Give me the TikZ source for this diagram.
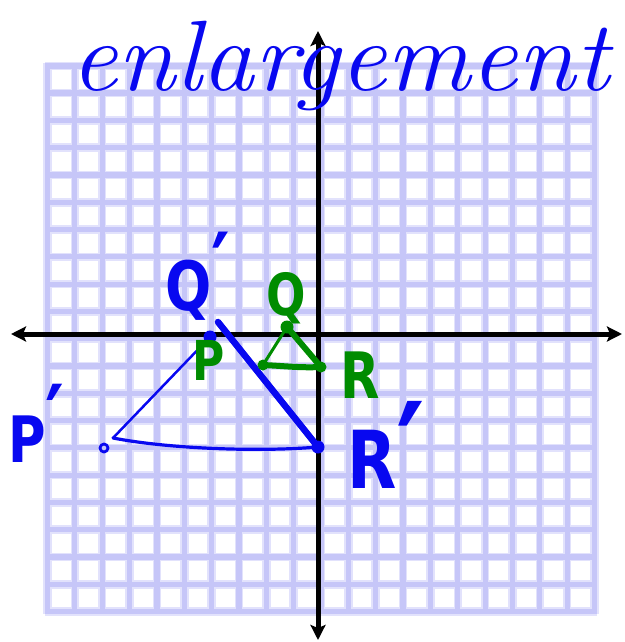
\documentclass[tikz,border=0pt]{standalone}
\usepackage{fontspec}
\usepackage{graphicx}
\usetikzlibrary{arrows.meta}
\newfontfamily\lblfont{DejaVu Sans}
\definecolor{penblue}{RGB}{8,8,240}
\definecolor{pengreen}{RGB}{0,140,0}
\definecolor{gridlav}{RGB}{198,198,248}
\definecolor{gridsoft}{RGB}{226,226,252}
\newcommand\handlbl[2]{\fontsize{#1}{#1}\selectfont\scalebox{0.8}[1]{#2}}
\newcommand\hprime[2]{\raisebox{#1}{\scalebox{#2}{′}}}
\begin{document}
\begin{tikzpicture}[x=1pt,y=-1pt,line cap=round,line join=round,
  gridsoftline/.style={gridsoft,line width=8.5},
  gridmainline/.style={gridlav,line width=5.2},
  axisline/.style={black,line width=5,{Stealth[length=15pt,width=15pt,inset=3pt]}-{Stealth[length=15pt,width=15pt,inset=3pt]}},
  bluedot/.style={circle,fill=penblue,inner sep=0,minimum size=#1},
  greendot/.style={circle,fill=pengreen,inner sep=0,minimum size=#1},
  bluelbl/.style={text=penblue,font=\lblfont\bfseries,anchor=base west,inner sep=0},
  greenlbl/.style={text=pengreen,font=\lblfont\bfseries,anchor=base west,inner sep=0}]
\useasboundingbox (0,0) rectangle (624,642);
% grid
\foreach \i in {0,...,20}{
  \draw[gridsoftline,line cap=butt] ({47.5+27.35*\i},63) -- ({47.5+27.35*\i},614);
  \draw[gridsoftline,line cap=butt] (45,{65.8+27.29*\i}) -- (597,{65.8+27.29*\i});
}
\foreach \i in {0,...,20}{
  \draw[gridmainline,line cap=butt] ({47.5+27.35*\i},63) -- ({47.5+27.35*\i},614);
  \draw[gridmainline,line cap=butt] (45,{65.8+27.29*\i}) -- (597,{65.8+27.29*\i});
}
\draw[gridlav,line width=5.5,line join=miter] (47.5,65.8) rectangle (594.5,611.6);
% axes
\coordinate (yt) at (318,31);
\coordinate (yb) at (318,640);
\coordinate (xl) at (11,334);
\coordinate (xr) at (622,334);
\draw[axisline] (yb) -- (yt);
\draw[axisline] (xl) -- (xr);
% title
\node[text=penblue,anchor=base,inner sep=0] (title) at (340,90)
  {\fontsize{100}{100}\selectfont\scalebox{1.05}[1]{\itshape enlargement}};
% blue triangle
\coordinate (P1v) at (113,438);
\coordinate (Q1) at (210,337);
\coordinate (Q1s) at (218,322);
\coordinate (R1) at (318,447);
\draw[penblue,line width=2.5] (P1v) -- (Q1);
\draw[penblue,line width=3.2] (P1v) .. controls (170,449) and (260,452) .. (R1);
\draw[penblue,line width=6.5] (Q1s) -- (R1);
\node[bluedot=13] (Q1d) at (Q1) {};
\node[bluedot=13] (R1d) at (R1) {};
\node[circle,draw=penblue,line width=2.8,minimum size=8,inner sep=0] (P1d) at (104,448) {};
% green triangle
\coordinate (P) at (263,365);
\coordinate (Q) at (287,327);
\coordinate (R) at (321,367);
\draw[pengreen,line width=3] (P) -- (Q);
\draw[pengreen,line width=6] (Q) -- (R);
\draw[pengreen,line width=6] (P) .. controls (285,366) and (300,368) .. (R);
\node[greendot=11] (Pd) at (P) {};
\node[greendot=13] (Qd) at (Q) {};
\node[greendot=11] (Rd) at (R) {};
% labels
\node[bluelbl] (lP1) at (8,462) {\handlbl{64}{P\hprime{0.2em}{1.4}}};
\node[bluelbl] (lR1) at (347,488) {\handlbl{80}{R\hprime{-0.15em}{1.7}}};
\node[bluelbl] (lQ1) at (165,310) {\handlbl{68}{Q\hprime{0.2em}{1.3}}};
\node[greenlbl] (lQ) at (266,315) {\handlbl{58}{Q}};
\node[greenlbl] (lP) at (192,380) {\handlbl{55}{P}};
\node[greenlbl] (lR) at (340,398) {\handlbl{64}{R}};
\end{tikzpicture}
\end{document}
